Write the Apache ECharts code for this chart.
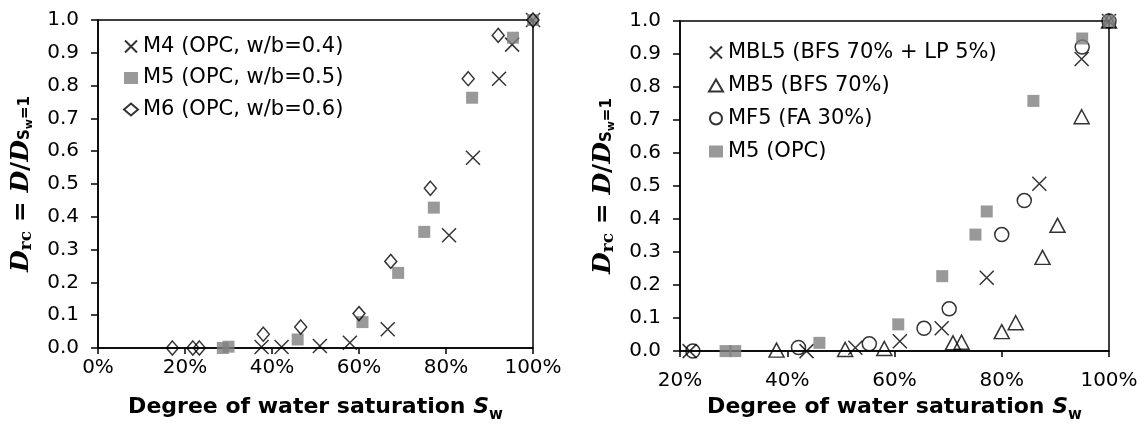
<!DOCTYPE html>
<html>
<head>
<meta charset="utf-8">
<script src="https://cdn.jsdelivr.net/npm/echarts@6/dist/echarts.min.js"></script>
<style>html,body{margin:0;padding:0;background:#fff}#c{width:1146px;height:428px}</style>
</head>
<body>
<div id="c"></div>
<script>
// ---- data (x = degree of water saturation in %, y = Drc) ----
const leftXTicks = [0, 20, 40, 60, 80, 100];
const rightXTicks = [20, 40, 60, 80, 100];
const yTicks = [0, 0.1, 0.2, 0.3, 0.4, 0.5, 0.6, 0.7, 0.8, 0.9, 1.0];

const leftNames = ['M4 (OPC, w/b=0.4)', 'M5 (OPC, w/b=0.5)', 'M6 (OPC, w/b=0.6)'];
const m4 = [[37.6,0.003],[42.2,0.003],[51.0,0.006],[57.9,0.016],[66.6,0.057],[80.7,0.344],[86.2,0.580],[92.2,0.821],[95.2,0.925],[100,1.0]];
const m5 = [[28.7,0.0],[30.0,0.004],[45.9,0.026],[60.8,0.079],[69.0,0.229],[75.0,0.354],[77.2,0.428],[86.0,0.763],[95.4,0.946],[100,1.0]];
const m6 = [[17.1,0.0],[21.8,0.0],[23.3,0.0],[38.0,0.042],[46.6,0.064],[60.0,0.105],[67.3,0.264],[76.4,0.487],[85.1,0.821],[92.0,0.953],[100,1.0]];

const rightNames = ['MBL5 (BFS 70% + LP 5%)', 'MB5 (BFS 70%)', 'MF5 (FA 30%)', 'M5 (OPC)'];
const mbl5 = [[21.8,0.0],[43.6,0.0],[52.7,0.010],[61.0,0.030],[68.8,0.069],[77.2,0.222],[87.0,0.507],[94.9,0.885],[100,1.0]];
const mb5 = [[38.0,0.003],[50.8,0.005],[58.1,0.008],[70.9,0.025],[72.5,0.027],[80.0,0.059],[82.6,0.086],[87.6,0.284],[90.4,0.381],[94.9,0.710],[100,1.0]];
const mf5 = [[22.4,0.0],[42.1,0.011],[55.3,0.022],[65.5,0.069],[70.2,0.128],[80.0,0.353],[84.2,0.456],[95.0,0.921],[100,1.0]];
const m5r = [[28.5,0.0],[30.3,0.0],[46.0,0.025],[60.7,0.081],[68.9,0.227],[75.1,0.353],[77.2,0.423],[85.9,0.758],[95.0,0.947],[100,1.0]];

// ---- styles ----
const SANS = 'DejaVu Sans';
const CROSS = 'path://M0,0L10,10M10,0L0,10';
const hollow = {color: 'rgba(0,0,0,0)', borderColor: '#000', borderWidth: 1.5};
const grayFill = {color: '#808080', borderWidth: 0};

const yName = '{i|D}{s|rc}{n| = }{i|D}{n|/}{i|D}{ss|S}{sss|w}{ss|=1}';
const yRich = {
  i: {fontFamily: 'DejaVu Serif', fontStyle: 'italic', fontWeight: 'bold', fontSize: 25, lineHeight: 25, verticalAlign: 'top', color: '#000'},
  n: {fontFamily: 'DejaVu Serif', fontWeight: 'bold', fontSize: 25, lineHeight: 25, verticalAlign: 'top', color: '#000'},
  s: {fontFamily: 'DejaVu Serif', fontWeight: 'bold', fontSize: 17, lineHeight: 17, padding: [9, 0, 0, 0], verticalAlign: 'top', color: '#000'},
  ss: {fontFamily: SANS, fontWeight: 'bold', fontSize: 15, lineHeight: 15, padding: [9, 0, 0, 0], verticalAlign: 'top', color: '#000'},
  sss: {fontFamily: SANS, fontWeight: 'bold', fontSize: 11, lineHeight: 11, padding: [15, 0, 0, 0], verticalAlign: 'top', color: '#000'}
};
const xName = '{b|Degree of water saturation }{bi|S}{sub|w}';
const xRich = {
  b: {fontFamily: SANS, fontWeight: 'bold', fontSize: 22, lineHeight: 24, verticalAlign: 'top', color: '#000'},
  bi: {fontFamily: SANS, fontWeight: 'bold', fontStyle: 'italic', fontSize: 22, lineHeight: 24, verticalAlign: 'top', color: '#000'},
  sub: {fontFamily: SANS, fontWeight: 'bold', fontSize: 15, lineHeight: 15, padding: [12, 0, 0, 0], verticalAlign: 'top', color: '#000'}
};

function xAxis(gi, min, labelMargin, nameGap) {
  return {
    type: 'value', gridIndex: gi, min: min, max: 100, interval: 20,
    axisLine: {show: true, onZero: false, lineStyle: {color: '#000', width: 1.5}},
    axisTick: {show: true, length: 6, lineStyle: {color: '#000', width: 1.5}},
    axisLabel: {formatter: '{value}%', fontFamily: SANS, fontSize: 20, color: '#000', margin: labelMargin},
    splitLine: {show: false},
    name: xName, nameLocation: 'middle', nameGap: nameGap, nameTextStyle: {rich: xRich}
  };
}
function yAxis(gi) {
  return {
    type: 'value', gridIndex: gi, min: 0, max: 1, interval: 0.1,
    axisLine: {show: true, onZero: false, lineStyle: {color: '#000', width: 1.5}},
    axisTick: {show: true, length: 7, lineStyle: {color: '#000', width: 1.5}},
    axisLabel: {formatter: v => v.toFixed(1), fontFamily: SANS, fontSize: 20, color: '#000', margin: 19},
    splitLine: {show: false},
    name: yName, nameLocation: 'middle', nameRotate: 90, nameGap: 64, nameTextStyle: {rich: yRich}
  };
}
function sc(name, data, gi, symbol, size, style) {
  return {
    type: 'scatter', name: name, data: data, xAxisIndex: gi, yAxisIndex: gi,
    symbol: symbol, symbolSize: size, itemStyle: style, clip: false, silent: true
  };
}

const chart = echarts.init(document.getElementById('c'));
chart.setOption({
  animation: false,
  backgroundColor: '#fff',
  grid: [
    {left: 98, top: 20, width: 435, height: 328, show: true, borderColor: '#000', borderWidth: 1.5, backgroundColor: 'transparent'},
    {left: 680, top: 21, width: 429, height: 331, show: true, borderColor: '#000', borderWidth: 1.5, backgroundColor: 'transparent'}
  ],
  xAxis: [xAxis(0, 0, 10, 48), xAxis(1, 20, 20, 43)],
  yAxis: [yAxis(0), yAxis(1)],
  legend: [
    {data: leftNames, orient: 'vertical', left: 123, top: 36, padding: 0, itemWidth: 14, itemHeight: 12, itemGap: 10.5,
     textStyle: {fontFamily: SANS, fontSize: 21, color: '#000'}, selectedMode: false},
    {data: rightNames, orient: 'vertical', left: 708, top: 42, padding: 0, itemWidth: 14, itemHeight: 12, itemGap: 12,
     textStyle: {fontFamily: SANS, fontSize: 21, color: '#000'}, selectedMode: false}
  ],
  series: [
    sc(leftNames[0], m4, 0, CROSS, 14, {color: 'rgba(0,0,0,0)', borderColor: '#000', borderWidth: 1.5}),
    sc(leftNames[1], m5, 0, 'rect', 12, grayFill),
    sc(leftNames[2], m6, 0, 'diamond', [12, 14], hollow),
    sc(rightNames[0], mbl5, 1, CROSS, 14, {color: 'rgba(0,0,0,0)', borderColor: '#000', borderWidth: 1.5}),
    sc(rightNames[1], mb5, 1, 'triangle', [15, 14], hollow),
    sc(rightNames[2], mf5, 1, 'circle', 14, hollow),
    sc(rightNames[3], m5r, 1, 'rect', 12, grayFill)
  ]
});
</script>
</body>
</html>
